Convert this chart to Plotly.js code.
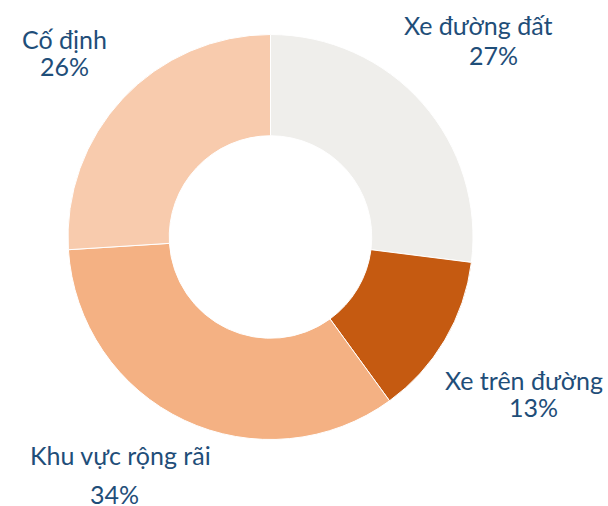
<!DOCTYPE html>
<html>
<head>
<meta charset="utf-8">
<script src="https://cdn.plot.ly/plotly-3.0.1.min.js"></script>
<style>html,body{margin:0;padding:0;background:#fff;}#chart{width:608px;height:506px;}</style>
</head>
<body>
<div id="chart"></div>
<script>
const categories = ["Xe đường đất", "Xe trên đường", "Khu vực rộng rãi", "Cố định"];
const values = [27, 13, 34, 26];
const colors = ["#EFEEEB", "#C55A11", "#F4B183", "#F8CBAD"];
const percentLabels = ["27%", "13%", "34%", "26%"];

// label centres in pixels (from top-left)
const nameXpx = [478, 524, 120, 64];
const nameYpx = [25, 380, 455, 39];
const pctXpx = [493, 533, 114, 64];
const pctYpx = [55, 407, 494, 66];

const W = 608, H = 506;
const cx = 270.5, cy = 237, r = 202.5;

const data = [{
  type: "pie",
  labels: categories,
  values: values,
  marker: {colors: colors, line: {color: "#FFFFFF", width: 1}},
  hole: 0.5,
  sort: false,
  direction: "clockwise",
  rotation: 0,
  textinfo: "none",
  hoverinfo: "label+percent",
  domain: {x: [(cx - r) / W, (cx + r) / W], y: [(H - cy - r) / H, (H - cy + r) / H]}
}];

const font = {family: "Lato, 'Open Sans', sans-serif", size: 25, color: "#1F4E79"};
const annotations = [];
categories.forEach((c, i) => {
  annotations.push({
    x: nameXpx[i] / W, y: 1 - nameYpx[i] / H, xref: "paper", yref: "paper",
    text: c, showarrow: false, xanchor: "center", yanchor: "middle", font: font
  });
  annotations.push({
    x: pctXpx[i] / W, y: 1 - pctYpx[i] / H, xref: "paper", yref: "paper",
    text: percentLabels[i], showarrow: false, xanchor: "center", yanchor: "middle", font: font
  });
});

const layout = {
  width: W, height: H,
  margin: {l: 0, r: 0, t: 0, b: 0},
  paper_bgcolor: "#FFFFFF",
  showlegend: false,
  annotations: annotations
};

Plotly.newPlot("chart", data, layout, {displayModeBar: false, staticPlot: true});
</script>
</body>
</html>
